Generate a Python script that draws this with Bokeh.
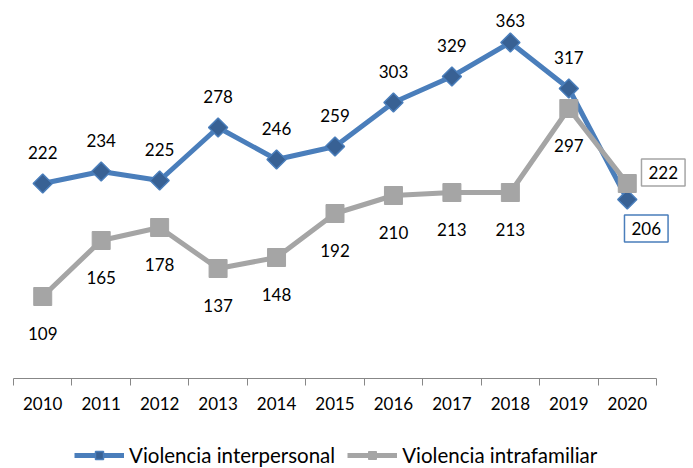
import numpy as np
from bokeh.plotting import figure
from bokeh.layouts import column
from bokeh.models import (ColumnDataSource, Range1d, LinearAxis, FixedTicker, LabelSet,
                          Label, Legend, LegendItem)
from bokeh.core.properties import value
from bokeh.embed import file_html
from bokeh.resources import INLINE

years = ["2010", "2011", "2012", "2013", "2014", "2015", "2016", "2017", "2018", "2019", "2020"]
interpersonal = [222, 234, 225, 278, 246, 259, 303, 329, 363, 317, 206]
intrafamiliar = [109, 165, 178, 137, 148, 192, 210, 213, 213, 297, 222]
series_names = ["Violencia interpersonal", "Violencia intrafamiliar"]

FONT = "Lato"
FS = "17px"
BLUE = "#4a7ebb"
BLUE_DARK = "#386194"
GRAY = "#a5a5a5"
AXIS = "#878787"

n = len(years)
x = list(range(n))

W = 693
H1, H2 = 442, 26
AX_L, AX_R = 13, 656          # pixel extent of the category axis
FRAME_TOP, FRAME_BOTTOM = 2, 378
step = (AX_R - AX_L) / n
x0 = -0.5 - (AX_L - 1) / step
x1 = n - 0.5 + (W - 1 - AX_R) / step

p = figure(width=W, height=H1, output_backend="svg", toolbar_location=None,
           x_range=Range1d(x0, x1),
           y_range=Range1d(222 - (FRAME_BOTTOM - 183), 222 + (183 - FRAME_TOP)),
           x_axis_type=None, y_axis_type=None,
           min_border_left=1, min_border_right=1, min_border_top=FRAME_TOP,
           min_border_bottom=H1 - FRAME_BOTTOM)
p.outline_line_color = None
p.grid.visible = False

# x axis: labels at category centres, tick marks at category boundaries
ax = LinearAxis(ticker=FixedTicker(ticks=x, minor_ticks=[i - 0.5 for i in range(n + 1)]),
                bounds=(-0.5, n - 0.5))
ax.major_label_overrides = {i: y for i, y in enumerate(years)}
ax.major_tick_line_color = None
ax.major_tick_out = 0
ax.major_tick_in = 0
ax.minor_tick_out = 7
ax.minor_tick_in = 0
ax.minor_tick_line_color = AXIS
ax.axis_line_color = AXIS
ax.major_label_standoff = 11
ax.major_label_text_font = FONT
ax.major_label_text_font_size = FS
ax.major_label_text_color = "#000000"
p.add_layout(ax, "below")

src_b = ColumnDataSource(dict(x=x, y=interpersonal))
src_g = ColumnDataSource(dict(x=x, y=intrafamiliar))


def draw(fig):
    a = fig.line("x", "y", source=src_b, line_color=BLUE, line_width=5)
    b = fig.scatter("x", "y", source=src_b, marker="square", angle=np.pi / 4, size=13.5,
                    fill_color=BLUE_DARK, line_color=BLUE, line_width=1.5)
    c = fig.line("x", "y", source=src_g, line_color=GRAY, line_width=5)
    d = fig.scatter("x", "y", source=src_g, marker="square", size=18,
                    fill_color=GRAY, line_color=GRAY)
    return a, b, c, d


draw(p)

# data labels (last point of each series is drawn in a box)
b_off = [31, 31, 31, 31, 31, 31, 31, 31, 22, 31]
lab_b = ColumnDataSource(dict(x=x[:-1], y=interpersonal[:-1],
                              t=[str(v) for v in interpersonal[:-1]], dy=b_off))
lab_g = ColumnDataSource(dict(x=x[:-1], y=intrafamiliar[:-1],
                              t=[str(v) for v in intrafamiliar[:-1]], dy=[-37] * (n - 1)))
for s in (lab_b, lab_g):
    p.add_layout(LabelSet(x="x", y="y", text="t", y_offset="dy", source=s,
                          text_align="center", text_baseline="middle",
                          text_font=value(FONT), text_font_size=FS, text_color="#000000"))

p.add_layout(Label(x=x[-1], y=interpersonal[-1], text=str(interpersonal[-1]),
                   x_offset=19, y_offset=-29, text_align="center", text_baseline="middle",
                   text_font=FONT, text_font_size=FS, text_color="#000000",
                   border_line_color=BLUE, border_line_width=1.5,
                   background_fill_color="white", padding=7))
p.add_layout(Label(x=x[-1], y=intrafamiliar[-1], text=str(intrafamiliar[-1]),
                   x_offset=36, y_offset=11, text_align="center", text_baseline="middle",
                   text_font=FONT, text_font_size=FS, text_color="#000000",
                   border_line_color=GRAY, border_line_width=1.5,
                   background_fill_color="white", padding=7))

# legend strip (same series drawn off-range, only their legend entries show)
q = figure(width=W, height=H2, output_backend="svg", toolbar_location=None,
           x_range=Range1d(1000, 1001), y_range=Range1d(1000, 1001),
           x_axis_type=None, y_axis_type=None,
           min_border_left=0, min_border_right=0, min_border_top=0, min_border_bottom=0)
q.outline_line_color = None
q.grid.visible = False
qa, qb, qc, qd = draw(q)
legend = Legend(items=[LegendItem(label=series_names[0], renderers=[qa, qb]),
                       LegendItem(label=series_names[1], renderers=[qc, qd])],
                location=(73, 1), orientation="horizontal",
                padding=0, margin=0, border_line_color=None, background_fill_alpha=0,
                glyph_width=50, glyph_height=20, label_standoff=5, spacing=12,
                label_text_font=FONT, label_text_font_size="20.5px", label_text_color="#000000")
q.add_layout(legend, "center")

layout = column(p, q, spacing=0)
open("out.html", "w").write(file_html(layout, INLINE))
